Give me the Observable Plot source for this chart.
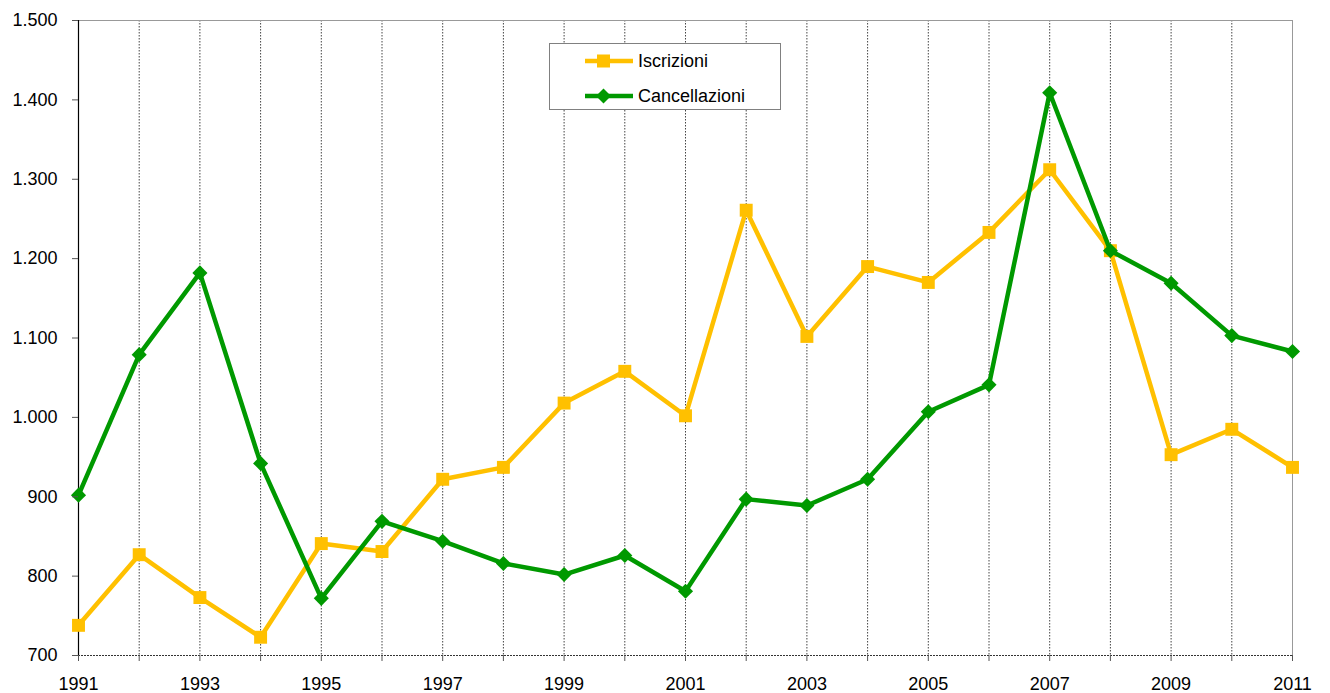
<!DOCTYPE html>
<html>
<head>
<meta charset="utf-8">
<script src="https://cdn.jsdelivr.net/npm/d3@7"></script>
<script src="https://cdn.jsdelivr.net/npm/@observablehq/plot@0.6"></script>
<style>
  html, body { margin: 0; padding: 0; background: white; }
  #wrap { position: relative; width: 1330px; height: 693px; }
  #legend {
    position: absolute; left: 549px; top: 43px; width: 230px; height: 65px;
    border: 1px solid #808080; background: white;
    font-family: "Liberation Sans", Arial, sans-serif; font-size: 18px; color: #000;
  }
  #legend .item { position: absolute; left: 34px; height: 24px; display: flex; align-items: center; }
  #legend svg { display: block; margin-right: 4px; }
</style>
</head>
<body>
<div id="wrap">
  <div id="chart"></div>
  <div id="legend"></div>
</div>
<script>
const years = d3.range(1991, 2012);
const iscrizioni = [738, 827, 773, 723, 841, 831, 922, 937, 1018, 1058, 1002, 1261, 1102, 1190, 1170, 1233, 1312, 1210, 953, 985, 937];
const cancellazioni = [902, 1079, 1182, 942, 772, 869, 844, 816, 802, 826, 781, 897, 889, 922, 1007, 1041, 1409, 1210, 1169, 1103, 1083];
const yTicks = [700, 800, 900, 1000, 1100, 1200, 1300, 1400, 1500];
const seriesNames = ["Iscrizioni", "Cancellazioni"];
const colors = ["#FFC000", "#009900"];

const dataI = years.map((y, i) => ({year: y, value: iscrizioni[i]}));
const dataC = years.map((y, i) => ({year: y, value: cancellazioni[i]}));

const fmt = d => d3.format(",")(d).replace(/,/g, ".");

const chart = Plot.plot({
  width: 1330,
  height: 693,
  marginLeft: 78,
  marginRight: 38,
  marginTop: 20,
  marginBottom: 38,
  x: {domain: [1991, 2011]},
  y: {domain: [700, 1500]},
  style: {fontFamily: "Liberation Sans, Arial, sans-serif", fontSize: "18px", color: "#000", background: "white", overflow: "visible"},
  marks: [
    Plot.ruleX(years, {stroke: "#444", strokeWidth: 1, strokeDasharray: "1.5,1.5"}),
    Plot.ruleY([1500], {stroke: "#999", strokeWidth: 1}),
    Plot.ruleX([2011], {stroke: "#999", strokeWidth: 1}),
    Plot.ruleY([700], {stroke: "#333", strokeWidth: 1, strokeDasharray: "2,1"}),
    Plot.ruleX([1991], {stroke: "#000", strokeWidth: 1.2}),
    Plot.line(dataI, {x: "year", y: "value", stroke: colors[0], strokeWidth: 4.5}),
    Plot.dot(dataI, {x: "year", y: "value", symbol: "square", r: 7.3, fill: colors[0], stroke: "none"}),
    Plot.line(dataC, {x: "year", y: "value", stroke: colors[1], strokeWidth: 4.5}),
    Plot.dot(dataC, {x: "year", y: "value", symbol: "diamond2", r: 6.8, fill: colors[1], stroke: "none"}),
    Plot.axisY({ticks: yTicks, tickFormat: fmt, tickSize: 6, tickPadding: 15, label: null, stroke: "#555"}),
    Plot.axisX({ticks: years, tickFormat: d => d % 2 === 1 ? String(d) : "", tickSize: 6, tickPadding: 16, label: null, stroke: "#555"})
  ]
});
document.getElementById("chart").appendChild(chart);

// Legend
const legend = d3.select("#legend");
const tops = [5, 40];
seriesNames.forEach((name, i) => {
  const item = legend.append("div").attr("class", "item").style("top", tops[i] + "px");
  const svg = item.append("svg").attr("width", 50).attr("height", 20);
  svg.append("line").attr("x1", 1).attr("x2", 49).attr("y1", 10).attr("y2", 10)
    .attr("stroke", colors[i]).attr("stroke-width", 4.5);
  if (i === 0) {
    svg.append("rect").attr("x", 13).attr("y", 3.5).attr("width", 13).attr("height", 13).attr("fill", colors[i]);
  } else {
    svg.append("path").attr("d", "M19.5,2.5 L27,10 L19.5,17.5 L12,10 Z").attr("fill", colors[i]);
  }
  item.append("span").text(name);
});
</script>
</body>
</html>
